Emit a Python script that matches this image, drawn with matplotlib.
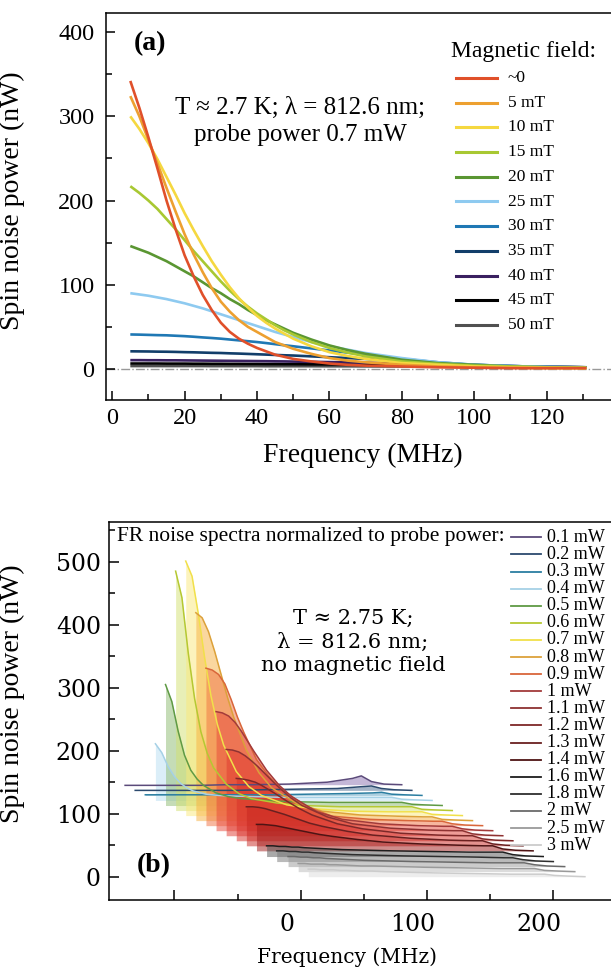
import numpy as np
import matplotlib.pyplot as plt
from matplotlib.lines import Line2D
from matplotlib.ticker import MultipleLocator, FixedLocator
import matplotlib.transforms as mtransforms

W, H = 611, 971

# ---------------- panel (a): spectra vs magnetic field ----------------
freq_a = [5, 7.5, 10, 12.5, 15, 17.5, 20, 22.5, 25, 27.5, 30, 32.5, 35, 37.5, 40, 42.5,
          45, 47.5, 50, 55, 60, 65, 70, 80, 90, 100, 110, 120, 131]
b_0 = [342, 310, 275, 238, 200, 166, 135, 110, 88, 70, 55, 44, 36, 30, 25, 21,
       17, 14.5, 12, 9, 6.5, 5, 4, 3, 2, 1.5, 1, 1, 1]
b_5 = [324, 300, 272, 244, 215, 187, 160, 136, 115, 96, 80, 68, 58, 50, 44, 38,
       32, 28, 24, 18, 13, 10, 8, 5, 3, 2, 1.5, 1, 1]
b_10 = [300, 285, 268, 249, 228, 207, 185, 165, 146, 128, 112, 97, 84, 73, 63, 55,
        48, 42, 36, 27, 20, 15.5, 12, 7, 5, 3, 2, 1.5, 1]
b_15 = [217, 209, 200, 190, 178, 166, 153, 140, 128, 116, 104, 93, 83, 74, 66, 59,
        52, 46, 41, 32, 25, 19.5, 15, 9, 6, 4, 3, 2, 1.5]
b_20 = [146, 142, 138, 133, 128, 122, 116, 110, 103, 96, 90, 83, 77, 70, 64, 58,
        53, 48, 43, 35, 28, 22.5, 18, 11, 7, 5, 3, 2, 1.5]
b_25 = [90, 88.5, 87, 85, 83, 80.5, 78, 75, 72, 68.5, 65, 61.5, 58, 54.5, 51, 47.5,
        44, 41, 38, 32, 27, 23, 19, 13, 8, 5, 3.5, 2.5, 2]
b_30 = [41, 40.8, 40.5, 40.2, 40, 39.5, 39, 38.3, 37.5, 36.8, 36, 35, 34, 33, 32, 30.8,
        29.5, 28.2, 27, 24.5, 22, 19.5, 17, 12, 8, 5, 3.5, 2.5, 2]
b_35 = [21, 20.9, 20.8, 20.6, 20.5, 20.3, 20, 19.8, 19.5, 19.2, 19, 18.6, 18.3, 17.9, 17.5, 17.1,
        16.7, 16.3, 16, 15, 14, 13, 12, 9.5, 7, 5, 3.5, 2.5, 2]
b_40 = [10.5, 10.5, 10.4, 10.4, 10.3, 10.3, 10.2, 10.1, 10, 9.9, 9.8, 9.7, 9.6, 9.5, 9.4, 9.3,
        9.1, 9, 8.8, 8.5, 8.2, 7.9, 7.5, 6.5, 5.5, 4.5, 3.5, 2.5, 2]
b_45 = [6.5, 6.5, 6.5, 6.5, 6.4, 6.4, 6.4, 6.3, 6.3, 6.2, 6.2, 6.1, 6.1, 6, 6, 5.9,
        5.9, 5.8, 5.8, 5.6, 5.5, 5.4, 5.2, 4.8, 4.3, 3.8, 3.2, 2.6, 2]
b_50 = [3.5, 3.5, 3.5, 3.5, 3.5, 3.5, 3.5, 3.5, 3.5, 3.4, 3.4, 3.4, 3.4, 3.4, 3.4, 3.3,
        3.3, 3.3, 3.3, 3.3, 3.2, 3.2, 3.1, 3, 2.8, 2.6, 2.4, 2.2, 2]
series_a = [b_0, b_5, b_10, b_15, b_20, b_25, b_30, b_35, b_40, b_45, b_50]
labels_a = ['~0', '5 mT', '10 mT', '15 mT', '20 mT', '25 mT', '30 mT',
            '35 mT', '40 mT', '45 mT', '50 mT']
colors_a = ['#e0502a', '#eda030', '#f5d840', '#a8c832', '#5a9632', '#8ecaf0',
            '#1f78b4', '#123e6a', '#3a2060', '#000000', '#505050']

# ---------------- panel (b): waterfall vs probe power ----------------
freq_b = [0, 5, 10, 15, 20, 25, 30, 40, 50, 60, 80, 100, 130, 160, 180, 187, 195, 205, 219]
p01 = [-1, -1, -1, -1, -1, -1, -1, -1, -1, -1, 0, 0, 1, 4, 10, 14, 5, 1, 0]
p02 = [0, 0, 0, 0, 0, 0, 0, 0, 0, 0, 0, 1, 2, 3, 6, 7, 3, 1, 0]
p03 = [1, 1, 1, 1, 1, 1, 1, 1, 1, 1, 1, 1, 2, 3, 4, 5, 2, 1, 0]
p04 = [90, 76, 54, 38, 27, 20, 15, 10, 8, 7, 6, 5, 5, 5, 5, 5, 2, 1, 0]
p05 = [192, 165, 118, 80, 56, 42, 32, 20, 14, 11, 8, 6, 5, 5, 5, 5, 2, 1, 0]
p06 = [380, 338, 250, 178, 125, 91, 68, 42, 27, 19, 12, 8, 6, 6, 6, 6, 2, 1, 0]
p07 = [404, 380, 320, 250, 190, 145, 112, 70, 46, 32, 17, 11, 7, 6, 6, 6, 2, 1, 0]
p08 = [330, 322, 300, 268, 232, 196, 164, 112, 76, 52, 27, 15, 9, 7, 6, 6, 2, 1, 0]
p09 = [250, 247, 240, 225, 200, 172, 148, 105, 78, 57, 30, 15, 10, 8, 7, 7, 3, 1, 0]
p10 = [189, 187, 182, 172, 158, 142, 126, 96, 72, 54, 30, 18, 11, 8, 7, 7, 3, 1, 0]
p11 = [137, 136, 133, 127, 119, 110, 100, 80, 62, 48, 30, 19, 12, 9, 8, 8, 3, 1, 0]
p12 = [99, 98, 96, 93, 88, 82, 76, 63, 51, 41, 27, 19, 12, 9, 8, 8, 3, 1, 0]
p13 = [62, 62, 61, 59, 56, 53, 50, 43, 36, 31, 23, 17, 12, 9, 8, 8, 3, 1, 0]
p14 = [42, 42, 41, 40, 38, 36, 34, 30, 26, 23, 18, 14, 11, 9, 8, 8, 3, 1, 0]
p16 = [17, 17, 16, 16, 15, 15, 14, 13, 12, 11, 10, 9, 8, 7, 7, 7, 3, 1, 0]
p18 = [17, 17, 16, 16, 15, 15, 14, 13, 12, 11, 10, 9, 8, 7, 6, 6, 3, 1, 0]
p20 = [16, 16, 15, 15, 14, 14, 13, 12, 11, 10, 9, 8, 7, 6, 6, 6, 3, 1, 0]
p25 = [13, 13, 12, 12, 12, 11, 11, 10, 9, 9, 8, 7, 6, 5, 5, 5, 2, 1, 0]
p30 = [12, 12, 11, 11, 11, 10, 10, 9, 9, 8, 7, 6, 5, 4, 4, 4, 2, 1, 0]
series_b = [p01, p02, p03, p04, p05, p06, p07, p08, p09, p10,
            p11, p12, p13, p14, p16, p18, p20, p25, p30]
labels_b = ['0.1 mW', '0.2 mW', '0.3 mW', '0.4 mW', '0.5 mW', '0.6 mW', '0.7 mW',
            '0.8 mW', '0.9 mW', '1 mW', '1.1 mW', '1.2 mW', '1.3 mW', '1.4 mW',
            '1.6 mW', '1.8 mW', '2 mW', '2.5 mW', '3 mW']
# waterfall shifts (MHz, nW)
shift_x = [-139, -131, -123, -115, -107, -99, -91, -83, -75, -67,
           -59, -51, -43, -35, -27, -19, -10, -2, 6]
shift_y = [146, 137, 129, 121, 113, 105, 97, 89, 81, 73,
           65, 57, 49, 41, 32, 24, 16, 8, 0]
line_b = ['#5b4a7a', '#2c4a6e', '#2b7ea1', '#a6d1e6', '#5f9a44', '#b5c832', '#f1e04a',
          '#dca13a', '#d9663a', '#a33a3a', '#8e3232', '#7e2828', '#6a2020', '#4e1414',
          '#1e1e1e', '#2e2e2e', '#6a6a6a', '#9a9a9a', '#cccccc']
fill_b = ['#8a70b0', '#4a6a90', '#5aa0c0', '#b8def2', '#8cba70', '#d2e070', '#fae87a',
          '#f7b040', '#f07040', '#e8483a', '#e03a30', '#d83028', '#c82620', '#a01a18',
          '#555555', '#777777', '#999999', '#bbbbbb', '#dddddd']

plt.rcParams['font.family'] = ['Liberation Serif', 'DejaVu Serif']
plt.rcParams['axes.linewidth'] = 1.1

fig = plt.figure(figsize=(W / 100, H / 100), dpi=100)


def fx(x):
    return x / W


def fy(y):
    return 1 - y / H


# ---------------- (a) ----------------
ax1 = fig.add_axes([fx(105.7), fy(400), fx(619) - fx(105.7), fy(12.7) - fy(400)])
ax1.axhline(0, color='#999999', ls='-.', lw=1, zorder=1)
for vals, col in reversed(list(zip(series_a, colors_a))):
    ax1.plot(freq_a, vals, color=col, lw=1.9, solid_capstyle='butt', zorder=2)
ax1.set_xlim(-1.8, 140)
ax1.set_ylim(-36.8, 423)
ax1.spines['right'].set_visible(False)
ax1.xaxis.set_major_locator(FixedLocator(np.arange(0, 121, 20)))
ax1.xaxis.set_minor_locator(FixedLocator(np.arange(10, 131, 20)))
ax1.yaxis.set_major_locator(MultipleLocator(100))
ax1.yaxis.set_minor_locator(MultipleLocator(50))
ax1.tick_params(which='both', direction='in', top=False, right=False, labelsize=17.5, width=1.1)
ax1.tick_params(which='major', length=6.5)
ax1.tick_params(which='minor', length=4)
ax1.tick_params(axis='x', pad=6)
ax1.tick_params(axis='y', pad=8)
ax1.set_xlabel('Frequency (MHz)', fontsize=20)
ax1.set_ylabel('Spin noise power (nW)', fontsize=20)
ax1.xaxis.set_label_coords(0.5, -0.11)
ax1.yaxis.set_label_coords(-0.157, 0.514)
ax1.text(fx(300), fy(121), 'T \u2248 2.7 K; \u03bb = 812.6 nm;\nprobe power 0.7 mW',
         transform=fig.transFigure, ha='center', va='center', fontsize=18, linespacing=1.3)
fig.text(fx(134), fy(44), '(a)', fontsize=20, fontweight='bold', va='center')

fig.text(fx(451), fy(51.7), 'Magnetic field:', fontsize=17, va='center')
for i, (lab, col) in enumerate(zip(labels_a, colors_a)):
    yy = 78 + 24.7 * i
    fig.add_artist(Line2D([fx(456), fx(497)], [fy(yy), fy(yy)], color=col, lw=2.2))
    fig.text(fx(508), fy(yy), lab, fontsize=12.5, va='center')

# ---------------- (b) ----------------
ax2 = fig.add_axes([fx(109.3), fy(900), fx(616.5) - fx(109.3), fy(521.7) - fy(900)])
fb = np.array(freq_b, dtype=float)
for vals, sx, sy, lc, fc in zip(series_b, shift_x, shift_y, line_b, fill_b):
    xx = fb + sx
    yy = sy + np.array(vals, dtype=float)
    ax2.fill_between(xx, sy, yy, color=fc, alpha=0.5, lw=0)
    ax2.plot(xx, yy, color=lc, lw=1.1)
ax2.set_xlim(-151.5, 250)
ax2.set_ylim(-37, 563.5)
ax2.spines['right'].set_visible(False)
ax2.xaxis.set_major_locator(FixedLocator([-100, 0, 100, 200]))
ax2.set_xticklabels(['', '0', '100', '200'])
ax2.xaxis.set_minor_locator(FixedLocator([-50, 50, 150]))
ax2.yaxis.set_major_locator(MultipleLocator(100))
ax2.yaxis.set_minor_locator(MultipleLocator(50))
ax2.tick_params(which='both', direction='in', top=False, right=False, labelsize=17,
                labelfontfamily='DejaVu Serif', width=1.1)
ax2.tick_params(which='major', length=7)
ax2.tick_params(which='minor', length=4)
ax2.tick_params(axis='x', pad=9)
ax2.tick_params(axis='y', pad=6)
shift = mtransforms.ScaledTranslation(-0.14, 0, fig.dpi_scale_trans)
for t in ax2.xaxis.get_major_ticks():
    t.label1.set_transform(t.label1.get_transform() + shift)
ax2.set_xlabel('Frequency (MHz)', fontsize=14.5, family='DejaVu Serif')
ax2.set_ylabel('Spin noise power (nW)', fontsize=20)
ax2.xaxis.set_label_coords(0.468, -0.125)
ax2.yaxis.set_label_coords(-0.166, 0.545)
fig.text(fx(353), fy(642), 'T \u2248 2.75 K;\n\u03bb = 812.6 nm;\nno magnetic field',
         fontsize=15, family='DejaVu Serif', ha='center', va='center', linespacing=1.3)
fig.text(fx(137), fy(866), '(b)', fontsize=20, fontweight='bold', va='center')

fig.text(fx(505), fy(537), 'FR noise spectra normalized to probe power:',
         fontsize=15.5, ha='right', va='center')
for i, (lab, col) in enumerate(zip(labels_b, line_b)):
    yy = 537.3 + 17.1 * i
    fig.add_artist(Line2D([fx(511), fx(541)], [fy(yy), fy(yy)], color=col, lw=1.3))
    fig.text(fx(546.7), fy(yy), lab, fontsize=13, va='center')

fig.savefig('out.png', dpi=100)
